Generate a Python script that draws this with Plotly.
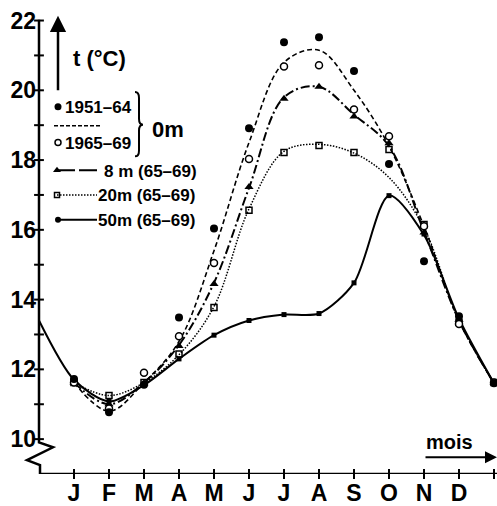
import plotly.graph_objects as go

# ---------------- data ----------------
months = ["J", "F", "M", "A", "M", "J", "J", "A", "S", "O", "N", "D"]
month_pos = list(range(1, 13))
pos13 = list(range(1, 14))          # Jan .. Dec + following Jan
pos14 = list(range(0, 14))          # previous Dec .. following Jan
y_ticks = [10, 12, 14, 16, 18, 20, 22]

# observed monthly means (markers)
t0_1951_64 = [11.72, 10.77, 11.56, 13.49, 16.04, 18.91, 21.38, 21.52, 20.55, 17.89, 15.10, 13.52, 11.60]
t0_1965_69 = [11.62, 10.88, 11.90, 12.95, 15.05, 18.03, 20.68, 20.72, 19.45, 18.68, 16.10, 13.30, 11.62]
t8_pts = [11.62, 11.00, 11.60, 12.67, 14.45, 17.23, 19.76, 20.10, 19.25, 18.48, 15.92, 13.42, 11.62]
t20_pts = [11.62, 11.25, 11.62, 12.44, 13.77, 16.56, 18.22, 18.42, 18.22, 18.30, 16.15, 13.35, 11.62]
t50_pts = [11.70, 11.10, 11.55, 12.30, 12.98, 13.40, 13.57, 13.60, 14.48, 16.98, 15.88, 13.50, 11.60]

# smoothed curves
curve0 = [11.62, 10.80, 11.62, 12.80, 15.40, 18.50, 20.80, 21.15, 20.00, 18.40, 16.10, 13.40, 11.60]
curve8 = [11.62, 11.00, 11.62, 12.70, 14.48, 17.20, 19.80, 20.10, 19.30, 18.40, 15.95, 13.40, 11.60]
curve20 = [11.62, 11.25, 11.62, 12.42, 13.80, 16.60, 18.25, 18.45, 18.20, 17.50, 16.05, 13.40, 11.60]
curve50 = [13.40, 11.70, 11.08, 11.55, 12.30, 12.98, 13.40, 13.57, 13.60, 14.48, 16.98, 15.85, 13.45, 11.60]

# ---------------- layout helpers (pixel -> data, for decorations) ----------------
W, H = 497, 506
PX0, PXM = 39, 35.0      # pixel of x=0, pixels per month
PY9, PYD = 479, 35.25    # pixel of y=9, pixels per degree


def X(px):
    return (px - PX0) / PXM


def Y(py):
    return 9 + (PY9 - py) / PYD


BLACK = "black"
FONT = "Liberation Sans"

fig = go.Figure()

# curves
fig.add_trace(go.Scatter(x=pos13, y=curve0, mode="lines",
                         line=dict(color=BLACK, width=1.6, dash="5px,3px", shape="spline", smoothing=1.0),
                         hoverinfo="skip"))
fig.add_trace(go.Scatter(x=pos13, y=curve8, mode="lines",
                         line=dict(color=BLACK, width=2, dash="9px,3px,2px,3px", shape="spline", smoothing=1.0),
                         hoverinfo="skip"))
fig.add_trace(go.Scatter(x=pos13, y=curve20, mode="lines",
                         line=dict(color=BLACK, width=1.5, dash="1.5px,1.5px", shape="spline", smoothing=1.0),
                         hoverinfo="skip"))
fig.add_trace(go.Scatter(x=pos14, y=curve50, mode="lines",
                         line=dict(color=BLACK, width=2, shape="spline", smoothing=0.8),
                         hoverinfo="skip"))

# markers
fig.add_trace(go.Scatter(x=pos13, y=t50_pts, mode="markers",
                         marker=dict(symbol="square", size=5, color=BLACK), cliponaxis=False))
fig.add_trace(go.Scatter(x=pos13, y=t20_pts, mode="markers",
                         marker=dict(symbol="square-open", size=6, color=BLACK, line=dict(width=1.5)),
                         cliponaxis=False))
fig.add_trace(go.Scatter(x=pos13, y=t8_pts, mode="markers",
                         marker=dict(symbol="triangle-up", size=8, color=BLACK), cliponaxis=False))
fig.add_trace(go.Scatter(x=pos13, y=t0_1965_69, mode="markers",
                         marker=dict(symbol="circle", size=7, color="white", line=dict(color=BLACK, width=1.5)),
                         cliponaxis=False))
fig.add_trace(go.Scatter(x=pos13, y=t0_1951_64, mode="markers",
                         marker=dict(symbol="circle", size=8, color=BLACK), cliponaxis=False))

# axis tick marks (crossing the axis lines)
fig.add_trace(go.Scatter(x=pos13, y=[9] * 13, mode="markers",
                         marker=dict(symbol="line-ns", size=7, line=dict(color=BLACK, width=2)),
                         cliponaxis=False, hoverinfo="skip"))
fig.add_trace(go.Scatter(x=[0] * 13, y=list(range(10, 23)), mode="markers",
                         marker=dict(symbol="line-ew", size=7, line=dict(color=BLACK, width=2)),
                         cliponaxis=False, hoverinfo="skip"))

# legend marks
leg_line_x = [X(57), X(97)]
fig.add_trace(go.Scatter(x=[X(58)], y=[Y(108)], mode="markers",
                         marker=dict(symbol="circle", size=7, color=BLACK), hoverinfo="skip"))
fig.add_trace(go.Scatter(x=[X(54), X(100)], y=[Y(127), Y(127)], mode="lines",
                         line=dict(color=BLACK, width=1.5, dash="4px,2px"), hoverinfo="skip"))
fig.add_trace(go.Scatter(x=[X(58)], y=[Y(144)], mode="markers",
                         marker=dict(symbol="circle", size=6, color="white", line=dict(color=BLACK, width=1.5)),
                         hoverinfo="skip"))
fig.add_trace(go.Scatter(x=leg_line_x, y=[Y(172)] * 2, mode="lines",
                         line=dict(color=BLACK, width=2, dash="18px,4px"), hoverinfo="skip"))
fig.add_trace(go.Scatter(x=[X(57)], y=[Y(172)], mode="markers",
                         marker=dict(symbol="triangle-up", size=7, color=BLACK), hoverinfo="skip"))
fig.add_trace(go.Scatter(x=leg_line_x, y=[Y(197)] * 2, mode="lines",
                         line=dict(color=BLACK, width=1.5, dash="1.5px,1.5px"), hoverinfo="skip"))
fig.add_trace(go.Scatter(x=[X(57)], y=[Y(197)], mode="markers",
                         marker=dict(symbol="square-open", size=5, color=BLACK, line=dict(width=1.5)),
                         hoverinfo="skip"))
fig.add_trace(go.Scatter(x=leg_line_x, y=[Y(222)] * 2, mode="lines",
                         line=dict(color=BLACK, width=2), hoverinfo="skip"))
fig.add_trace(go.Scatter(x=[X(58)], y=[Y(222)], mode="markers",
                         marker=dict(symbol="circle", size=6, color=BLACK), hoverinfo="skip"))

# axis lines (with the zigzag break on the y axis) and the legend brace
shapes = [
    dict(type="path", xref="x", yref="y",
         path=(f"M {X(39)},{Y(20)} L {X(39)},{Y(447)} L {X(53)},{Y(452)} L {X(27)},{Y(465)} "
               f"L {X(40)},{Y(470)} L {X(40)},{Y(479)} L {X(497)},{Y(479)}"),
         line=dict(color=BLACK, width=2.5)),
    dict(type="path", xref="x", yref="y",
         path=(f"M {X(135)},{Y(93)} Q {X(139)},{Y(93)} {X(139)},{Y(99)} L {X(139)},{Y(120)} "
               f"Q {X(139)},{Y(126)} {X(143)},{Y(126)} Q {X(139)},{Y(126)} {X(139)},{Y(132)} "
               f"L {X(139)},{Y(152)} Q {X(139)},{Y(158)} {X(135)},{Y(158)}"),
         line=dict(color=BLACK, width=2)),
]

txt = dict(family=FONT, size=17, color=BLACK, weight="bold")
annotations = [
    # temperature arrow and label
    dict(x=X(58), y=Y(16), xref="x", yref="y", ax=0, ay=76, showarrow=True,
         arrowhead=2, arrowsize=1.3, arrowwidth=2.5, arrowcolor=BLACK, text=""),
    dict(x=X(71), y=Y(59), xref="x", yref="y", text="t (°C)", showarrow=False,
         xanchor="left", yanchor="middle", font=dict(family=FONT, size=22, color=BLACK, weight="bold")),
    # months arrow and label
    dict(x=X(497), y=Y(462), xref="x", yref="y", ax=-73, ay=0, showarrow=True,
         arrowhead=2, arrowsize=1.2, arrowwidth=2, arrowcolor=BLACK, text=""),
    dict(x=X(449), y=Y(447), xref="x", yref="y", text="mois", showarrow=False,
         xanchor="center", yanchor="middle", font=dict(family=FONT, size=20, color=BLACK, weight="bold")),
    # legend texts
    dict(x=X(63), y=Y(109), xref="x", yref="y", text="1951–64", showarrow=False,
         xanchor="left", yanchor="middle", font=txt),
    dict(x=X(63), y=Y(145), xref="x", yref="y", text="1965–69", showarrow=False,
         xanchor="left", yanchor="middle", font=txt),
    dict(x=X(150), y=Y(131), xref="x", yref="y", text="0m", showarrow=False,
         xanchor="left", yanchor="middle", font=dict(family=FONT, size=22, color=BLACK, weight="bold")),
    dict(x=X(102), y=Y(173), xref="x", yref="y", text="8 m (65–69)", showarrow=False,
         xanchor="left", yanchor="middle", font=txt),
    dict(x=X(96), y=Y(198), xref="x", yref="y", text="20m (65–69)", showarrow=False,
         xanchor="left", yanchor="middle", font=txt),
    dict(x=X(96), y=Y(223), xref="x", yref="y", text="50m (65–69)", showarrow=False,
         xanchor="left", yanchor="middle", font=txt),
]

fig.update_layout(
    width=W, height=H,
    margin=dict(l=0, r=0, t=0, b=H - PY9),
    paper_bgcolor="white", plot_bgcolor="white",
    showlegend=False,
    shapes=shapes,
    annotations=annotations,
    xaxis=dict(range=[X(0), X(W)], tickvals=month_pos, ticktext=months, ticks="",
               ticklabelstandoff=3,
               showgrid=False, zeroline=False, showline=False,
               tickfont=dict(family=FONT, size=23, color=BLACK, weight="bold")),
    yaxis=dict(range=[Y(PY9), Y(0)], tickvals=y_ticks, ticks="",
               anchor="free", position=(PX0 - 3) / W, side="left",
               showgrid=False, zeroline=False, showline=False,
               tickfont=dict(family=FONT, size=23, color=BLACK, weight="bold")),
)

fig.write_html("out.html")
